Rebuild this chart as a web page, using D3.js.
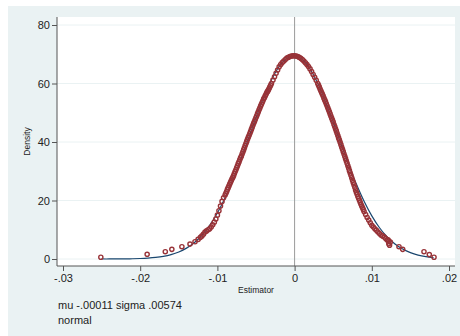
<!DOCTYPE html>
<html>
<head>
<meta charset="utf-8">
<script src="https://cdn.jsdelivr.net/npm/d3@7"></script>
<style>
  body { margin: 0; background: #fff; }
  svg { display: block; font-family: "Liberation Sans", Arial, sans-serif; }
</style>
</head>
<body>
<div id="chart"></div>
<script>
// chart frame
const WIDTH = 460;
const HEIGHT = 336;
const PLOT = {left: 57, right: 455, top: 17, bottom: 266};

// axis ticks
const X_TICKS = [-0.03, -0.02, -0.01, 0, 0.01, 0.02];
const Y_TICKS = [0, 20, 40, 60, 80];

// caption text
const CAPTION = ["mu -.00011 sigma .00574", "normal"];

// normal density
const curveX = [-0.025, -0.024, -0.023, -0.022, -0.021, -0.020, -0.019, -0.018, -0.017, -0.016,
  -0.015, -0.014, -0.013, -0.012, -0.011, -0.010, -0.009, -0.008, -0.007, -0.006, -0.005,
  -0.004, -0.003, -0.002, -0.001, 0, 0.001, 0.002, 0.003, 0.004, 0.005, 0.006, 0.007, 0.008,
  0.009, 0.010, 0.011, 0.012, 0.013, 0.014, 0.015, 0.016, 0.017, 0.018];
const curveDensity = [0.01, 0.01, 0.03, 0.05, 0.09, 0.17, 0.31, 0.54, 0.91, 1.51,
  2.40, 3.72, 5.58, 8.12, 11.49, 15.75, 20.93, 27.01, 33.81, 41.05, 48.35,
  55.23, 61.22, 65.83, 68.67, 69.49, 68.21, 64.96, 60.01, 53.79, 46.77, 39.44, 32.27, 25.62,
  19.73, 14.73, 10.68, 7.51, 5.12, 3.39, 2.17, 1.35, 0.82, 0.48];

// estimator points (hollow markers), read along the band
const points = [
  [-0.0251, 0.6], [-0.0191, 1.6], [-0.01675, 2.5], [-0.0159, 3.3], [-0.0146, 4.2], [-0.01355, 5.1],
  [-0.0129, 5.9], [-0.0125, 6.7], [-0.0122, 7.4], [-0.0120, 7.9], [-0.0118, 8.5],
  [-0.0116, 9.2], [-0.0114, 9.6], [-0.0112, 10.0], [-0.0110, 10.3], [-0.0108, 10.9], [-0.0106, 11.7],
  [-0.0104, 12.6], [-0.0102, 13.7], [-0.0100, 15.0], [-0.0098, 16.5], [-0.0096, 18.1], [-0.0094, 19.7],
  [-0.0092, 20.9], [-0.0090, 21.9],
  [-0.0089, 22.5], [-0.0088, 23.1], [-0.0087, 23.8], [-0.0086, 24.4], [-0.0085, 25.0], [-0.0084, 25.6],
  [-0.0083, 26.2], [-0.0082, 26.8], [-0.0081, 27.4], [-0.0080, 27.9],
  [-0.0079, 28.5], [-0.0078, 29.2], [-0.0077, 29.9], [-0.0076, 30.5], [-0.0075, 31.2], [-0.0074, 31.9],
  [-0.0073, 32.6], [-0.0072, 33.2], [-0.0071, 33.9], [-0.0070, 34.6],
  [-0.0069, 35.1], [-0.0068, 35.9], [-0.0067, 36.6], [-0.0066, 37.3], [-0.0065, 38.0], [-0.0064, 38.8],
  [-0.0063, 39.5], [-0.0062, 40.2], [-0.0061, 40.9], [-0.0060, 41.6],
  [-0.0059, 42.2], [-0.0058, 42.9], [-0.0057, 43.6], [-0.0056, 44.3], [-0.0055, 45.0], [-0.0054, 45.7],
  [-0.0053, 46.4], [-0.0052, 47.0], [-0.0051, 47.7], [-0.0050, 48.4],
  [-0.0049, 49.0], [-0.0048, 49.7], [-0.0047, 50.3], [-0.0046, 51.0], [-0.0045, 51.6], [-0.0044, 52.3],
  [-0.0043, 52.9], [-0.0042, 53.5], [-0.0041, 54.1], [-0.0040, 54.8],
  [-0.0039, 55.2], [-0.0038, 55.8], [-0.0037, 56.3], [-0.0036, 56.9], [-0.0035, 57.3], [-0.0034, 57.8],
  [-0.0033, 58.3], [-0.0032, 58.9], [-0.0031, 59.4], [-0.0030, 60.0],
  [-0.0028, 61.2], [-0.0026, 62.3], [-0.0024, 63.5], [-0.0022, 64.6], [-0.0020, 65.7],
  [-0.0018, 66.5], [-0.0016, 67.2], [-0.0014, 67.7], [-0.0012, 68.2], [-0.0010, 68.7],
  [-0.0008, 69.0], [-0.0006, 69.2], [-0.0004, 69.4], [-0.0002, 69.5], [0.0000, 69.5],
  [0.0002, 69.4], [0.0004, 69.2], [0.0006, 69.0], [0.0008, 68.6], [0.0010, 68.2],
  [0.0012, 67.7], [0.0014, 67.1], [0.0016, 66.5], [0.0018, 65.8], [0.0020, 65.0],
  [0.0022, 64.1], [0.0024, 63.1], [0.0026, 62.1], [0.0028, 61.1],
  [0.0030, 60.0], [0.0031, 59.4], [0.0032, 58.8], [0.0033, 58.1], [0.0034, 57.5], [0.0035, 56.9],
  [0.0036, 56.3], [0.0037, 55.7], [0.0038, 55.0], [0.0039, 54.4], [0.0040, 53.8],
  [0.0041, 53.1], [0.0042, 52.4], [0.0043, 51.7], [0.0044, 51.0], [0.0045, 50.3], [0.0046, 49.6],
  [0.0047, 48.9], [0.0048, 48.2], [0.0049, 47.5], [0.0050, 46.8],
  [0.0051, 46.0], [0.0052, 45.3], [0.0053, 44.5], [0.0054, 43.8], [0.0055, 43.0], [0.0056, 42.2],
  [0.0057, 41.4], [0.0058, 40.7], [0.0059, 39.9], [0.0060, 39.1],
  [0.0061, 38.3], [0.0062, 37.5], [0.0063, 36.7], [0.0064, 35.9], [0.0065, 35.1], [0.0066, 34.3],
  [0.0067, 33.5], [0.0068, 32.7], [0.0069, 31.9], [0.0070, 31.1],
  [0.0071, 30.2], [0.0072, 29.4], [0.0073, 28.6], [0.0074, 27.8], [0.0075, 26.9], [0.0076, 26.1],
  [0.0077, 25.3], [0.0078, 24.5], [0.0079, 23.6], [0.0080, 22.8],
  [0.0081, 22.1], [0.0082, 21.4], [0.0083, 20.8], [0.0084, 20.1], [0.0085, 19.4], [0.0086, 18.7],
  [0.0087, 18.1], [0.0088, 17.5], [0.0089, 16.9],
  [0.0090, 16.2], [0.0092, 15.2], [0.0094, 14.2], [0.0096, 13.3], [0.0098, 12.4], [0.0100, 11.5],
  [0.0102, 10.9], [0.0104, 10.3], [0.0106, 9.8], [0.0108, 9.2], [0.0110, 8.7],
  [0.0112, 8.2], [0.0114, 7.9], [0.0116, 7.5], [0.0118, 7.0], [0.0120, 6.5],
  [0.0121, 6.6], [0.0122, 6.1], [0.0122, 5.2], [0.0123, 4.7], [0.0124, 5.8],
  [0.01352, 4.2], [0.0140, 3.3], [0.01676, 2.5], [0.01745, 1.5], [0.01806, 0.6]
];

const svg = d3.select("#chart")
  .append("svg")
    .attr("width", WIDTH)
    .attr("height", HEIGHT);

// graph region and plot region
svg.append("rect")
  .attr("x", 8).attr("y", 6)
  .attr("width", WIDTH - 8).attr("height", HEIGHT - 6)
  .attr("fill", "#eaf2f3");
svg.append("rect")
  .attr("x", PLOT.left).attr("y", PLOT.top)
  .attr("width", PLOT.right - PLOT.left).attr("height", PLOT.bottom - PLOT.top)
  .attr("fill", "#ffffff");

const X_SCALE = d3.scaleLinear().domain([-0.03, 0.02]).range([63, 449]);
const Y_SCALE = d3.scaleLinear().domain([0, 80]).range([259, 25]);

// stata style labels: -.03, .01, 0 (plain hyphen)
const fmt = d => d === 0 ? "0" : d3.format(".2f")(d).replace("\u2212", "-").replace("0.", ".");

// grid lines
svg.append("g")
  .selectAll("line")
  .data(Y_TICKS)
  .join("line")
    .attr("x1", PLOT.left).attr("x2", PLOT.right)
    .attr("y1", d => Y_SCALE(d)).attr("y2", d => Y_SCALE(d))
    .attr("stroke", "#eaf2f3")
    .attr("stroke-width", 1);

// vertical reference line at 0
svg.append("line")
  .attr("x1", X_SCALE(0)).attr("x2", X_SCALE(0))
  .attr("y1", PLOT.top).attr("y2", PLOT.bottom)
  .attr("stroke", "#9a9a9a")
  .attr("stroke-width", 1);

// axes
const yAxis = svg.append("g")
  .attr("transform", "translate(" + PLOT.left + ",0)")
  .call(d3.axisLeft(Y_SCALE).tickValues(Y_TICKS).tickSize(5).tickSizeOuter(0).tickFormat(d3.format("d")));
const xAxis = svg.append("g")
  .attr("transform", "translate(0," + PLOT.bottom + ")")
  .call(d3.axisBottom(X_SCALE).tickValues(X_TICKS).tickSize(5).tickSizeOuter(0).tickFormat(fmt));

[yAxis, xAxis].forEach(g => {
  g.select(".domain").remove();
  g.selectAll(".tick line").attr("stroke", "#555");
  g.selectAll(".tick text")
    .attr("fill", "#222")
    .attr("font-size", "11px")
    .attr("font-family", "Liberation Sans, Arial, sans-serif");
});
yAxis.selectAll(".tick text").attr("x", -7);
xAxis.selectAll(".tick text").attr("y", 8);

svg.append("line")
  .attr("x1", PLOT.left).attr("x2", PLOT.left)
  .attr("y1", PLOT.top).attr("y2", PLOT.bottom)
  .attr("stroke", "#555");
svg.append("line")
  .attr("x1", PLOT.left).attr("x2", PLOT.right)
  .attr("y1", PLOT.bottom).attr("y2", PLOT.bottom)
  .attr("stroke", "#555");

// axis titles
svg.append("text")
  .attr("x", (PLOT.left + PLOT.right) / 2)
  .attr("y", 293)
  .attr("text-anchor", "middle")
  .attr("font-size", "8.5px")
  .attr("fill", "#222")
  .text("Estimator");

svg.append("text")
  .attr("transform", "translate(30," + ((PLOT.top + PLOT.bottom) / 2) + ") rotate(-90)")
  .attr("text-anchor", "middle")
  .attr("font-size", "8.5px")
  .attr("fill", "#222")
  .text("Density");

// normal curve
const line = d3.line()
  .x((d, i) => X_SCALE(curveX[i]))
  .y(d => Y_SCALE(d))
  .curve(d3.curveCatmullRom);

svg.append("path")
  .datum(curveDensity)
  .attr("d", line)
  .attr("fill", "none")
  .attr("stroke", "#1a476f")
  .attr("stroke-width", 1.2);

// hollow markers
svg.append("g")
  .selectAll("circle")
  .data(points)
  .join("circle")
    .attr("cx", d => X_SCALE(d[0]))
    .attr("cy", d => Y_SCALE(d[1]))
    .attr("r", 2.1)
    .attr("fill", "none")
    .attr("stroke", "#983338")
    .attr("stroke-width", 1.4);

// caption
svg.append("g")
  .selectAll("text")
  .data(CAPTION)
  .join("text")
    .attr("x", 58)
    .attr("y", (d, i) => 309 + i * 15)
    .attr("font-size", "11px")
    .attr("fill", "#222")
    .text(d => d);
</script>
</body>
</html>
